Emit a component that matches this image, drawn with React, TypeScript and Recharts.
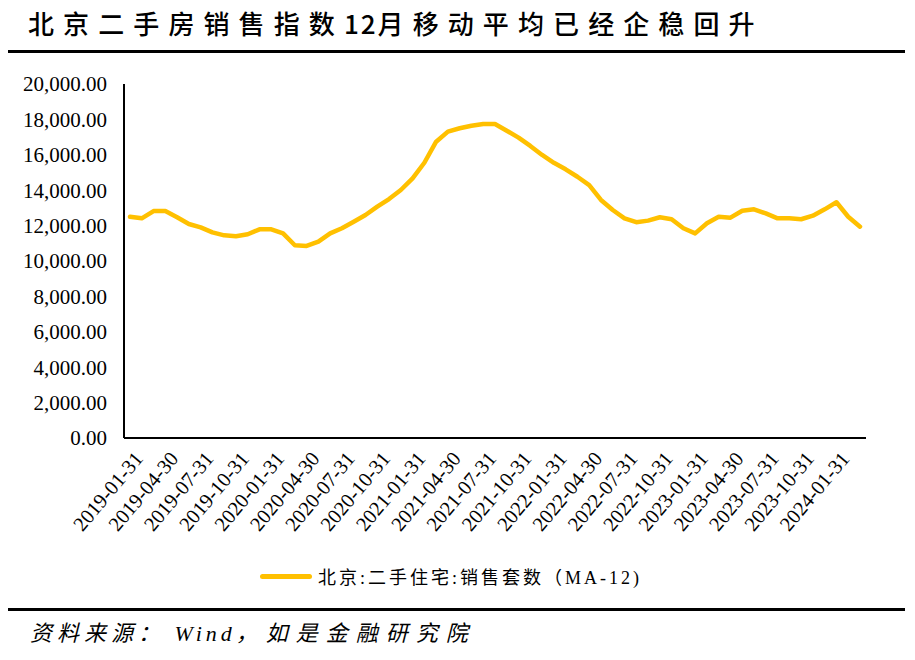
import React from 'react';
import { LineChart, Line, XAxis, YAxis } from 'recharts';

const dates: string[] = [
  '2019-01-31', '2019-02-28', '2019-03-31', '2019-04-30', '2019-05-31', '2019-06-30',
  '2019-07-31', '2019-08-31', '2019-09-30', '2019-10-31', '2019-11-30', '2019-12-31',
  '2020-01-31', '2020-02-29', '2020-03-31', '2020-04-30', '2020-05-31', '2020-06-30',
  '2020-07-31', '2020-08-31', '2020-09-30', '2020-10-31', '2020-11-30', '2020-12-31',
  '2021-01-31', '2021-02-28', '2021-03-31', '2021-04-30', '2021-05-31', '2021-06-30',
  '2021-07-31', '2021-08-31', '2021-09-30', '2021-10-31', '2021-11-30', '2021-12-31',
  '2022-01-31', '2022-02-28', '2022-03-31', '2022-04-30', '2022-05-31', '2022-06-30',
  '2022-07-31', '2022-08-31', '2022-09-30', '2022-10-31', '2022-11-30', '2022-12-31',
  '2023-01-31', '2023-02-28', '2023-03-31', '2023-04-30', '2023-05-31', '2023-06-30',
  '2023-07-31', '2023-08-31', '2023-09-30', '2023-10-31', '2023-11-30', '2023-12-31',
  '2024-01-31', '2024-02-29', '2024-03-31',
];

const salesMA12: number[] = [
  12500, 12410, 12820, 12820, 12470, 12090, 11900, 11620, 11450, 11400, 11510, 11790,
  11790, 11560, 10890, 10850, 11090, 11560, 11850, 12220, 12600, 13070, 13500, 14010,
  14670, 15550, 16740, 17310, 17500, 17640, 17740, 17740, 17360, 16970, 16500, 15990,
  15550, 15180, 14760, 14290, 13450, 12880, 12410, 12190, 12280, 12470, 12360, 11850,
  11560, 12130, 12500, 12450, 12840, 12920, 12690, 12410, 12410, 12360, 12560, 12920,
  13320, 12500, 11940,
];

const yTicks: number[] = [0, 2000, 4000, 6000, 8000, 10000, 12000, 14000, 16000, 18000, 20000];

const seriesName = '北京:二手住宅:销售套数（MA-12)';
const titleHead = '北京二手房销售指数';
const titleNum = '12';
const titleTail = '月移动平均已经企稳回升';
const sourceHead = '资料来源：';
const sourceMid = ' Wind';
const sourceTail = '，如是金融研究院';

const data = dates.map((d, i) => ({ date: d, value: salesMA12[i] }));

const LINE_COLOR = '#FFC000';
const SERIF = '"Liberation Serif", "Noto Sans CJK SC", serif';

const fmt = (v: number) =>
  v.toLocaleString('en-US', { minimumFractionDigits: 2, maximumFractionDigits: 2 });

const XTick = (props: any) => {
  const { x, y, payload } = props;
  const tx = x + 3;
  const ty = y + 4;
  return (
    <text
      x={tx}
      y={ty}
      transform={`rotate(-50, ${tx}, ${ty})`}
      textAnchor="end"
      dominantBaseline="hanging"
      fontFamily={SERIF}
      fontSize={20.5}
      fill="#000"
    >
      {payload.value}
    </text>
  );
};

export default function App() {
  return (
    <div style={{ position: 'relative', width: 915, height: 660, margin: -8, background: '#fff', overflow: 'hidden' }}>
      <div
        style={{
          position: 'absolute',
          left: 28,
          top: 6,
          fontFamily: '"Noto Sans CJK SC", sans-serif',
          fontWeight: 500,
          fontSize: 26,
          letterSpacing: 9.1,
          color: '#000',
          whiteSpace: 'nowrap',
          lineHeight: '34px',
        }}
      >
        {titleHead}
        <span style={{ letterSpacing: 2 }}>{titleNum}</span>
        {titleTail}
      </div>
      <div style={{ position: 'absolute', left: 6, top: 50, width: 899, height: 3, background: '#000' }} />
      <div style={{ position: 'absolute', left: 0, top: 0 }}>
        <LineChart
          width={915}
          height={660}
          data={data}
          margin={{ top: 84, right: 49, bottom: 122, left: 14 }}
        >
          <XAxis
            dataKey="date"
            interval={2}
            tickLine={false}
            axisLine={{ stroke: '#000', strokeWidth: 2 }}
            padding={{ left: 6, right: 6 }}
            height={100}
            tick={<XTick />}
          />
          <YAxis
            domain={[0, 20000]}
            ticks={yTicks}
            tickFormatter={fmt}
            tickLine={false}
            tickSize={6}
            tickMargin={11}
            width={110}
            axisLine={{ stroke: '#000', strokeWidth: 2 }}
            tick={{ fill: '#000', fontSize: 21, fontFamily: SERIF }}
            interval={0}
          />
          <Line
            type="linear"
            dataKey="value"
            name={seriesName}
            stroke={LINE_COLOR}
            strokeWidth={4.5}
            strokeLinejoin="round"
            strokeLinecap="round"
            dot={false}
            activeDot={false}
            isAnimationActive={false}
          />
        </LineChart>
      </div>
      <div style={{ position: 'absolute', left: 260, top: 563, height: 26, display: 'flex', alignItems: 'center' }}>
        <div style={{ width: 52, height: 5, borderRadius: 2.5, background: LINE_COLOR, marginRight: 6 }} />
        <span style={{ fontFamily: SERIF, fontSize: 18, letterSpacing: 3, color: '#000', whiteSpace: 'nowrap' }}>
          {seriesName}
        </span>
      </div>
      <div style={{ position: 'absolute', left: 6, top: 608, width: 899, height: 3, background: '#000' }} />
      <div
        style={{
          position: 'absolute',
          left: 30,
          top: 619,
          fontFamily: SERIF,
          fontStyle: 'italic',
          fontSize: 22,
          letterSpacing: 5,
          color: '#000',
          whiteSpace: 'nowrap',
          lineHeight: '30px',
        }}
      >
        {sourceHead}
        <span style={{ letterSpacing: 4 }}>{sourceMid}</span>
        <span style={{ letterSpacing: 8 }}>{sourceTail}</span>
      </div>
    </div>
  );
}
